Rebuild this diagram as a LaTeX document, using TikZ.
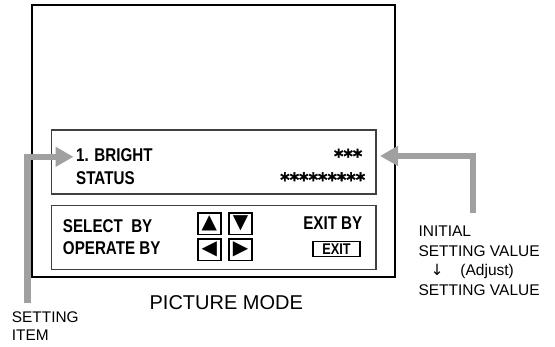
\documentclass[tikz,border=0pt]{standalone}
\usepackage{fontspec}
\setmainfont{Liberation Sans}
\newfontfamily\osdfont[FakeStretch=0.82]{Liberation Sans}
\newfontfamily\starfont[FakeBold=1.5,FakeStretch=0.95]{DejaVu Sans}
\newfontfamily\symfont{DejaVu Sans}
\usetikzlibrary{arrows.meta}
\definecolor{arrowgray}{RGB}{160,160,160}

\tikzset{
  osd/.style={inner sep=0pt, font=\osdfont\bfseries\fontsize{18.5}{20}\selectfont},
  stars/.style={inner sep=0pt, font=\starfont\bfseries\fontsize{19}{20}\selectfont},
  btn/.style={draw, line width=1.2pt, minimum width=23pt, minimum height=21.5pt,
    inner sep=0pt, font=\symfont\fontsize{20}{20}\selectfont},
  hint/.style={inner sep=0pt, align=left, anchor=north west},
  pointer/.style={draw=arrowgray, line width=6.5pt, -{Triangle[length=18pt,width=19pt]}},
}

\begin{document}
\begin{tikzpicture}[x=1pt,y=-1pt]
  \useasboundingbox (0,0) rectangle (555,347);
  % screen and the two menu panels
  \draw[line width=2.2pt] (32,5) rectangle (395,277);
  \draw[line width=1.1pt, black!75] (51.5,130) rectangle (376,194);
  \draw[line width=1.1pt, black!75] (51.5,205.7) rectangle (376,269.3);

  \node[osd, anchor=base west] (bright) at (76,161.7) {1. BRIGHT};
  \node[osd, anchor=base west] (status) at (76,185) {STATUS};
  \node[stars, anchor=base east] (stars1) at (362.5,163) {***};
  \node[stars, anchor=base east] (stars2) at (365.4,186.5) {*********};

  \node[osd, anchor=base west] (select) at (62.8,232.3) {SELECT\ \ BY};
  \node[osd, anchor=base west] (operate) at (62.8,255) {OPERATE BY};
  \node[btn] (up) at (209.4,223.8) {▲};
  \node[btn] (down) at (240.5,223.8) {▼};
  \node[btn] (kleft) at (209.4,249.7) {◀};
  \node[btn] (kright) at (240.5,249.7) {▶};
  \node[osd, anchor=base east] (exitby) at (362.5,230) {EXIT BY};
  \node[draw, line width=1.8pt, minimum width=47pt, minimum height=15pt, inner sep=0pt,
    font=\osdfont\bfseries\fontsize{15.5}{15.5}\selectfont] (exit) at (336.5,249) {EXIT};

  \node[anchor=base, inner sep=0pt, font=\fontsize{20}{24}\selectfont] (mode) at (226.3,309.3) {PICTURE MODE};

  % callouts
  \node[hint, font=\fontsize{15.4}{18}\selectfont] (item) at (11.7,311.7) {SETTING\\ITEM};
  \node[hint, font=\fontsize{15.5}{19.4}\selectfont] (initial) at (418.3,226)
    {INITIAL\\SETTING VALUE\\\hspace*{12pt}{\symfont ↓}\hspace{17pt}(Adjust)\\SETTING VALUE};

  \coordinate (itembase) at (27.7,303.3);
  \coordinate (initbase) at (473,213.3);
  \draw[pointer] (itembase) |- ([shift={(-2.5pt,-1.5pt)}]bright.west);
  \draw[pointer] (initbase) |- ([xshift=17.5pt]stars1.east);
\end{tikzpicture}
\end{document}
